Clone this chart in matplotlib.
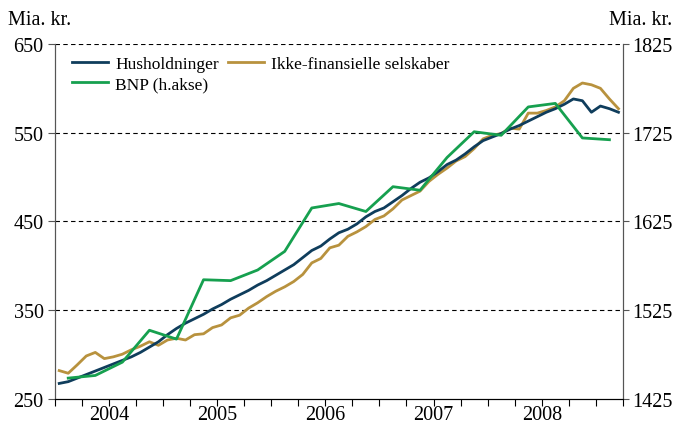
import matplotlib
matplotlib.use("Agg")
import matplotlib.pyplot as plt
from matplotlib.ticker import FixedLocator, NullFormatter, FixedFormatter

plt.rcParams['font.family'] = ['Liberation Serif', 'DejaVu Serif']

# Monthly data Jan 2004 - Mar 2009 (bn DKK, left axis)
husholdninger = [267, 269, 273, 277, 281, 285, 289, 293, 297, 302,
                 308, 314, 322, 329, 335, 340, 345, 351, 356, 362,
                 367, 372, 378, 383, 389, 395, 401, 409, 417, 422,
                 430, 437, 441, 447, 455, 461, 465, 472, 479, 487,
                 494, 499, 506, 514, 519, 526, 534, 541, 545, 549,
                 554, 558, 563, 568, 573, 577, 582, 588, 586, 573,
                 580, 577, 573]
ikke_fin = [281.5, 278.5, 288, 298, 302, 295, 297, 300, 305, 309,
            314, 310, 316, 318, 316, 322, 323, 330, 333, 341,
            344, 352, 358, 365, 371, 376, 382, 390, 403, 408,
            420, 423, 433, 438, 444, 452, 456, 464, 474, 479,
            484, 495, 503, 510, 518, 523, 532, 543, 547, 549,
            555, 554, 572, 572, 575, 579, 586, 600, 606, 604,
            600, 588, 577]
# Quarterly GDP 2004Q1 - 2009Q1 (right axis)
bnp = [1448, 1451, 1466, 1502, 1492, 1559, 1558, 1570, 1591, 1640,
       1645, 1636, 1664, 1660, 1697, 1726, 1722, 1754, 1758, 1719, 1717]

years = ['2004', '2005', '2006', '2007', '2008']
left_ticks = [250, 350, 450, 550, 650]
right_ticks = [1425, 1525, 1625, 1725, 1825]

c_hus = '#0f3d5c'
c_ikke = '#b8923e'
c_bnp = '#16a04f'

fig = plt.figure(figsize=(6.77, 4.27), dpi=100)
ax = fig.add_axes([0.0808, 0.0644, 0.8394, 0.8302])
ax2 = ax.twinx()

xm = [i + 0.5 for i in range(len(husholdninger))]
xq = [3 * q + 1.5 for q in range(len(bnp))]

l1, = ax.plot(xm, husholdninger, color=c_hus, lw=2.0, label='Husholdninger', zorder=4)
l2, = ax.plot(xm, ikke_fin, color=c_ikke, lw=2.0, label='Ikke-finansielle selskaber', zorder=3)
l3, = ax2.plot(xq, bnp, color=c_bnp, lw=2.0, label='BNP (h.akse)', zorder=3)

ax.set_xlim(0, 63)
ax.set_ylim(250, 650)
ax2.set_ylim(1425, 1825)

for y in [350, 450, 550, 650]:
    ax.axhline(y, color='black', lw=0.8, ls=(0, (4, 3)), zorder=1)

ax.xaxis.remove_overlapping_locs = False
ax.xaxis.set_major_locator(FixedLocator(list(range(0, 64, 3))))
ax.xaxis.set_major_formatter(NullFormatter())
ax.xaxis.set_minor_locator(FixedLocator([6 + 12 * k for k in range(len(years))]))
ax.xaxis.set_minor_formatter(FixedFormatter(years))
ax.tick_params(axis='x', which='major', direction='out', length=5, width=0.8)
ax.tick_params(axis='x', which='minor', length=0, labelsize=14.5, pad=5)

ax.set_yticks(left_ticks)
ax.set_yticklabels([str(v) for v in left_ticks])
ax.tick_params(axis='y', direction='out', length=5, width=0.8, labelsize=14.5, pad=3, colors='black')
ax2.set_yticks(right_ticks)
ax2.set_yticklabels([str(v) for v in right_ticks])
ax2.tick_params(axis='y', direction='out', length=4, width=0.8, labelsize=14.5, pad=3)

for a in (ax, ax2):
    a.spines['top'].set_visible(False)
    a.spines['left'].set_color('#555555')
    a.spines['right'].set_color('#555555')
    a.spines['bottom'].set_color('black')
ax.tick_params(axis='y', color='#555555')
ax2.tick_params(axis='y', color='#555555')

fig.text(0.012, 0.952, 'Mia. kr.', fontsize=14.5, ha='left', va='center')
fig.text(0.993, 0.952, 'Mia. kr.', fontsize=14.5, ha='right', va='center')

leg = ax2.legend([l1, l3, l2], ['Husholdninger', 'BNP (h.akse)', 'Ikke-finansielle selskaber'],
                 ncol=2, loc='upper left', bbox_to_anchor=(0.012, 0.995), frameon=False,
                 fontsize=12.5, handlelength=2.1, handletextpad=0.4, columnspacing=0.5,
                 labelspacing=0.2, borderaxespad=0.2)

fig.savefig('out.png', dpi=100)
